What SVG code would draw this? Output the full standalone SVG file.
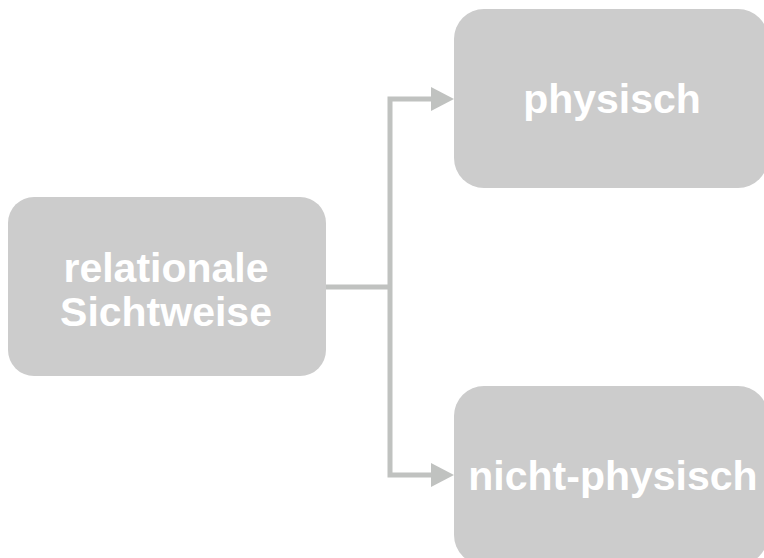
<svg xmlns="http://www.w3.org/2000/svg" width="764" height="558" viewBox="0 0 764 558">
  <style>
    .box { fill: #cccccc; }
    .lbl { fill: #ffffff; font-family: "Liberation Sans", Arial, sans-serif; font-weight: bold; font-size: 41px; text-anchor: middle; }
    .conn { fill: none; stroke: #c0c2c0; stroke-width: 5; }
    .head { fill: #c0c2c0; }
  </style>
  <g id="connectors">
    <path class="conn" d="M326 287 H390"/>
    <path class="conn" d="M433 99 H390 V475 H433"/>
    <polygon class="head" points="431,87 454,99 431,111"/>
    <polygon class="head" points="431,463 454,475 431,487"/>
  </g>
  <g id="node-relationale">
    <rect class="box" x="8" y="197" width="318" height="179" rx="26" ry="26"/>
    <text class="lbl" x="166" y="282">relationale</text>
    <text class="lbl" x="166" y="326">Sichtweise</text>
  </g>
  <g id="node-physisch">
    <rect class="box" x="454" y="9" width="314" height="179" rx="30" ry="30"/>
    <text class="lbl" x="612" y="113">physisch</text>
  </g>
  <g id="node-nicht-physisch">
    <rect class="box" x="454" y="386" width="314" height="179" rx="30" ry="30"/>
    <text class="lbl" x="613" y="490">nicht-physisch</text>
  </g>
</svg>
